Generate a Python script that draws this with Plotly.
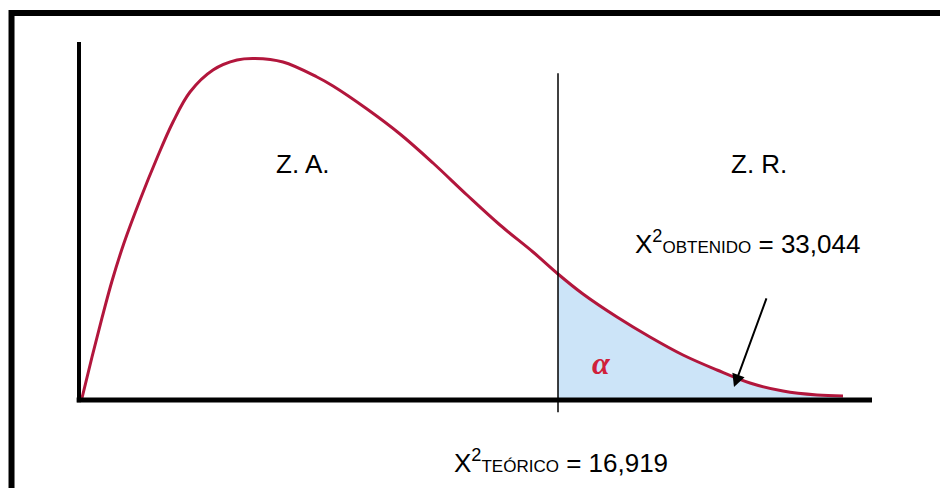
import plotly.graph_objects as go

# curve points (x: arbitrary units, y: % of peak height)
curve_x = [0.15, 0.65, 1.15, 1.65, 2.25, 3.05, 3.9, 4.7, 5.55, 6.7, 7.9, 8.8, 10.2,
           11.9, 12.7, 14.4, 16.05, 17.7, 19.4, 21.05, 22.7, 23.95, 25.2, 26.9,
           28.55, 30.2, 31.9, 33.55, 35.2, 36.9, 38.2]
curve_y = [0.56, 12.01, 22.91, 33.24, 43.85, 55.87, 67.6, 77.65, 86.03, 92.18, 94.97,
           95.39, 94.41, 90.22, 87.71, 81.28, 74.3, 66.2, 57.26, 48.88, 41.34, 35.2,
           29.61, 23.18, 17.6, 12.57, 8.38, 4.75, 2.51, 1.4, 1.12]

critical_x = 23.95      # X2 teorico
obtained_x = 32.75      # X2 obtenido (arrow tip)
obtained_y = 3.6

curve_color = "#b2163c"
fill_color = "#cce4f8"

tail_x = [x for x in curve_x if x >= critical_x]
tail_y = [y for x, y in zip(curve_x, curve_y) if x >= critical_x]

fig = go.Figure()

# shaded rejection area
fig.add_trace(go.Scatter(x=tail_x, y=tail_y, mode="lines", fill="tozeroy",
                         fillcolor=fill_color,
                         line=dict(width=0, color=fill_color, shape="spline", smoothing=1),
                         hoverinfo="skip"))

# chi-square curve
fig.add_trace(go.Scatter(x=curve_x, y=curve_y, mode="lines",
                         line=dict(color=curve_color, width=3, shape="spline", smoothing=1),
                         hoverinfo="skip"))

shapes = [
    # outer frame (cut at right and bottom)
    dict(type="rect", xref="paper", yref="paper", x0=-0.0851, x1=1.3, y0=-0.6, y1=1.081,
         line=dict(color="black", width=6)),
    # x axis
    dict(type="line", xref="paper", yref="paper", x0=-0.003, x1=1.0, y0=0, y1=0,
         line=dict(color="black", width=5)),
    # y axis
    dict(type="line", xref="paper", yref="paper", x0=0, x1=0, y0=-0.006, y1=1.0,
         line=dict(color="black", width=4)),
    # critical value line
    dict(type="line", xref="x", yref="paper", x0=critical_x, x1=critical_x,
         y0=-0.034, y1=0.913, line=dict(color="black", width=1.5)),
]

font = dict(family="Liberation Sans, Arial, sans-serif", size=26, color="black")

annotations = [
    dict(x=11.15, y=65.9, text="Z. A.", showarrow=False, font=font),
    dict(x=34.0, y=65.9, text="Z. R.", showarrow=False, font=font),
    dict(x=27.7, y=44.0, xanchor="left", yanchor="middle", showarrow=False, font=font,
         text='X<sup>2</sup><span style="font-size:17px">OBTENIDO</span> = 33,044'),
    dict(x=18.65, y=-0.173, yref="paper", xanchor="left", yanchor="middle",
         showarrow=False, font=font,
         text='X<sup>2</sup><span style="font-size:17px">TEÓRICO</span> = 16,919'),
    dict(x=26.1, y=10.3, text="<b><i>α</i></b>", showarrow=False,
         font=dict(family="Liberation Serif, Times New Roman, serif", size=32, color="#d0203a")),
    dict(x=obtained_x, y=obtained_y, ax=34.4, ay=28.8, axref="x", ayref="y",
         xref="x", yref="y", text="", showarrow=True, arrowhead=2, arrowsize=1.3,
         arrowwidth=2, arrowcolor="black"),
]

fig.update_layout(
    width=940, height=480,
    margin=dict(l=71, r=76, t=34, b=88),
    paper_bgcolor="white", plot_bgcolor="white",
    showlegend=False,
    shapes=shapes,
    annotations=annotations,
    xaxis=dict(range=[0, 39.65], visible=False, fixedrange=True),
    yaxis=dict(range=[0, 100], visible=False, fixedrange=True),
)

fig.write_html("out.html")
